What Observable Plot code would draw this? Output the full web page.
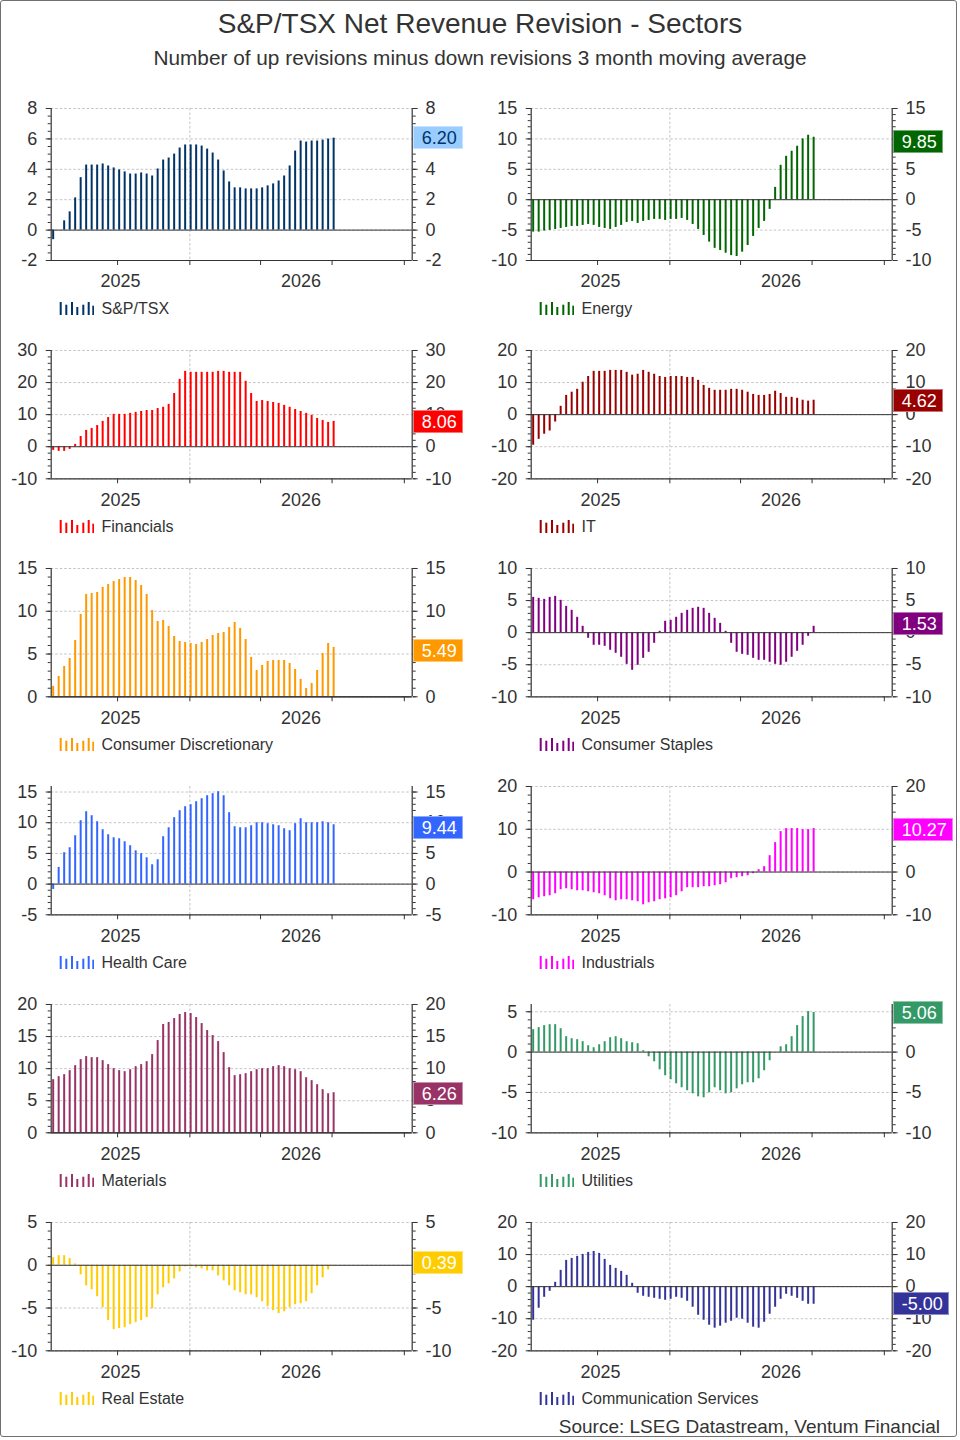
<!DOCTYPE html>
<html>
<head>
<meta charset="utf-8">
<script src="https://cdn.jsdelivr.net/npm/d3@7"></script>
<script src="https://cdn.jsdelivr.net/npm/@observablehq/plot@0.6"></script>
<style>
  body { margin: 0; background: #fff; font-family: "Liberation Sans", Arial, sans-serif; color: #333; }
  #page { position: relative; width: 960px; height: 1440px; overflow: hidden; background: #fff; }
  #border { position: absolute; left: 0; top: 0; width: 955px; height: 1435px; border: 1.5px solid #707070; border-radius: 3px; pointer-events: none; }
  .title { position: absolute; left: 0; width: 960px; text-align: center; white-space: nowrap; }
  .panel { position: absolute; }
  .panel svg { overflow: visible; }
  .vbox { position: absolute; height: 23px; line-height: 23px; font-size: 18px; padding: 0 5px 0 8px; box-sizing: border-box; border: 1px solid rgba(255,255,255,0.45); white-space: nowrap; }
  .legend { position: absolute; display: flex; align-items: center; height: 20px; font-size: 16px; color: #333; white-space: nowrap; }
  .legend svg { margin-right: 8px; }
  #source { position: absolute; right: 20px; top: 1416px; font-size: 19px; line-height: 22px; color: #333; }
</style>
</head>
<body>
<div id="page">
  <div class="title" style="top:7px;font-size:28px;line-height:34px;">S&amp;P/TSX Net Revenue Revision - Sectors</div>
  <div class="title" style="top:46px;font-size:20.8px;line-height:24px;">Number of up revisions minus down revisions 3 month moving average</div>
  <div id="panels"></div>
  <div id="source">Source: LSEG Datastream, Ventum Financial</div>
  <div id="border"></div>
</div>
<script>
// ---------- data ----------
const firstWeek = "2025-07-11";   // weekly observations
const xDomain = ["2025-07-08T12:00Z", "2026-10-11T00:00Z"];
const quarterTicks = ["2025-10-01", "2026-01-01", "2026-04-01", "2026-07-01", "2026-10-01"];
const yearGrid = ["2026-01-01"];
const yearLabels = ["2025", "2026"];

const sectors = ["S&P/TSX", "Energy", "Financials", "IT", "Consumer Discretionary", "Consumer Staples",
  "Health Care", "Industrials", "Materials", "Utilities", "Real Estate", "Communication Services"];

const spTSX = [-0.63, 0, 0.61, 1.2, 2.12, 3.45, 4.28, 4.28, 4.28, 4.35,
  4.22, 4.09, 3.96, 3.83, 3.69, 3.69, 3.76, 3.69, 3.56, 4.02,
  4.61, 4.74, 5.0, 5.4, 5.6, 5.6, 5.6, 5.53, 5.33, 5.07,
  4.61, 3.89, 3.17, 2.78, 2.78, 2.71, 2.71, 2.71, 2.78, 2.91,
  3.04, 3.23, 3.56, 4.22, 5.2, 5.86, 5.79, 5.86, 5.86, 5.92,
  5.99, 6.05];
const energy = [-5.33, -5.33, -5.16, -5.05, -4.89, -4.73, -4.56, -4.4, -4.4, -4.23,
  -4.07, -4.23, -4.56, -4.73, -4.89, -4.56, -4.23, -3.74, -3.57, -3.9,
  -3.57, -3.41, -3.24, -3.24, -3.41, -3.24, -3.24, -3.08, -3.41, -4.07,
  -4.89, -5.88, -6.98, -8.0, -8.35, -8.8, -9.2, -9.34, -8.63, -7.53,
  -6.04, -4.73, -3.57, -1.59, 2.03, 5.66, 7.14, 7.97, 8.79, 10.0,
  10.6, 10.27];
const financials = [-1.14, -1.45, -1.45, -0.83, 0.73, 3.2, 5.1, 5.7, 6.6, 7.9,
  9.1, 10.1, 10.1, 10.1, 10.4, 10.7, 11.0, 11.3, 11.3, 11.9,
  12.3, 13.2, 16.6, 21.0, 23.5, 23.2, 23.2, 23.2, 23.2, 23.2,
  23.5, 23.5, 23.2, 23.2, 23.2, 20.4, 16.6, 14.1, 14.4, 14.1,
  13.8, 13.5, 12.9, 12.3, 11.6, 11.0, 10.4, 9.8, 8.8, 8.2,
  7.6, 7.9];
const it = [-9.55, -7.7, -6.1, -5.1, -2.3, 2.6, 6.0, 7.0, 7.9, 10.1,
  11.9, 13.5, 13.5, 13.5, 13.8, 13.8, 13.8, 13.2, 12.3, 12.6,
  13.8, 13.2, 12.6, 11.9, 11.6, 11.9, 11.9, 11.9, 11.6, 11.6,
  10.7, 9.1, 8.2, 7.6, 7.6, 7.6, 7.9, 7.9, 7.6, 7.0,
  6.3, 6.0, 6.0, 6.3, 7.3, 6.6, 5.4, 5.4, 5.1, 4.5,
  4.2, 4.5];
const consDisc = [1.21, 2.38, 3.55, 4.48, 6.58, 9.62, 11.96, 12.08, 12.19, 12.78,
  13.13, 13.48, 13.71, 13.95, 13.95, 13.6, 13.01, 11.96, 10.09, 8.8,
  8.92, 8.22, 7.05, 6.47, 6.35, 6.23, 6.12, 6.35, 6.7, 7.17,
  7.4, 7.52, 8.1, 8.69, 7.99, 6.7, 4.6, 3.08, 3.66, 4.13,
  4.25, 4.25, 4.25, 3.9, 3.19, 2.03, 0.97, 1.56, 3.08, 5.06,
  6.23, 5.77];
const consStaples = [5.5, 5.35, 5.19, 5.5, 5.66, 5.04, 4.1, 3.48, 2.39, 0.99,
  -0.88, -1.97, -1.97, -2.13, -2.75, -3.22, -3.84, -4.94, -5.87, -5.09,
  -4.0, -3.06, -1.66, 0.21, 1.77, 1.92, 2.39, 3.01, 3.48, 3.79,
  3.95, 3.79, 3.01, 2.23, 1.45, 0.21, -1.66, -3.06, -3.38, -3.53,
  -4.0, -4.31, -4.31, -4.62, -4.94, -5.09, -4.62, -3.84, -2.91, -1.97,
  -0.57, 0.99];
const healthCare = [-0.87, 2.72, 5.11, 5.92, 7.88, 10.33, 11.79, 11.14, 10.16, 8.86,
  8.04, 7.55, 7.39, 6.9, 6.25, 5.43, 4.95, 4.29, 3.15, 3.97,
  7.72, 9.18, 10.82, 11.96, 12.61, 12.93, 13.42, 13.91, 14.4, 14.73,
  15.05, 14.4, 11.63, 9.35, 9.18, 9.18, 9.51, 10.0, 10.0, 9.84,
  9.67, 9.51, 9.02, 8.7, 9.84, 10.65, 10.0, 10.0, 10.0, 10.16,
  10.0, 9.67];
const industrials = [-6.48, -6.02, -5.78, -5.55, -5.08, -4.14, -3.91, -4.14, -4.38, -4.38,
  -4.61, -4.84, -5.08, -5.55, -6.25, -6.72, -6.48, -6.48, -6.72, -6.95,
  -7.66, -7.19, -6.95, -6.48, -6.25, -6.02, -5.55, -4.61, -3.67, -3.67,
  -3.67, -3.44, -3.44, -3.2, -2.97, -2.5, -1.56, -1.33, -1.09, -0.86,
  -0.39, 0.55, 1.25, 3.83, 6.88, 9.45, 10.16, 10.16, 10.16, 9.92,
  9.92, 10.16];
const materials = [8.28, 8.75, 9.06, 9.69, 10.47, 11.41, 11.88, 11.72, 11.72, 11.25,
  10.63, 10.0, 9.69, 9.53, 9.84, 10.31, 10.63, 11.09, 12.19, 14.38,
  16.88, 17.19, 17.81, 18.44, 18.75, 18.59, 17.97, 17.03, 15.94, 15.16,
  14.22, 12.5, 10.16, 8.91, 9.06, 9.22, 9.53, 9.84, 10.0, 10.0,
  10.31, 10.47, 10.31, 10.0, 9.84, 9.53, 8.59, 8.13, 7.5, 6.72,
  6.09, 6.25];
const utilities = [2.78, 3.03, 3.28, 3.4, 3.4, 2.9, 1.91, 1.66, 1.54, 1.29,
  0.79, 0.54, 0.91, 1.29, 1.78, 1.91, 1.66, 1.29, 1.16, 1.04,
  0.17, -0.58, -1.2, -2.19, -2.93, -3.43, -3.93, -4.42, -4.79, -5.17,
  -5.54, -5.66, -5.04, -4.42, -4.79, -5.17, -5.04, -4.55, -4.05, -3.8,
  -3.8, -3.31, -2.31, -1.07, 0, 0.66, 0.91, 1.91, 3.28, 4.4,
  5.02, 4.9];
const realEstate = [0.89, 1.12, 1.12, 0.78, 0.16, -1.12, -2.4, -2.87, -3.68, -4.96,
  -6.47, -7.52, -7.4, -7.29, -6.94, -6.71, -6.47, -6.12, -5.08, -3.45,
  -2.64, -2.17, -1.59, -0.78, -0.19, -0.19, -0.31, -0.43, -0.66, -0.66,
  -1.24, -1.82, -2.4, -2.98, -3.22, -3.45, -3.45, -3.8, -4.26, -4.84,
  -5.31, -5.66, -5.43, -4.96, -4.61, -4.5, -4.26, -3.33, -2.4, -1.47,
  -0.54, -0.05];
const commServices = [-10.47, -6.74, -3.32, -1.45, 1.35, 5.08, 8.19, 8.81, 9.43, 10.05,
  10.67, 10.98, 10.36, 8.5, 6.63, 5.7, 4.77, 3.52, 1.04, -2.07,
  -3.0, -3.32, -3.63, -3.94, -4.25, -3.94, -3.32, -3.63, -4.56, -6.42,
  -8.91, -10.47, -12.02, -12.95, -12.33, -11.4, -10.78, -9.84, -10.16, -11.4,
  -12.64, -12.95, -11.09, -8.6, -6.42, -3.94, -2.38, -3.0, -3.63, -4.56,
  -5.49, -5.49];

const series = [spTSX, energy, financials, it, consDisc, consStaples,
  healthCare, industrials, materials, utilities, realEstate, commServices];
const lastLabels = ["6.20", "9.85", "8.06", "4.62", "5.49", "1.53", "9.44", "10.27", "6.26", "5.06", "0.39", "-5.00"];
const yDomains = [[-2, 8], [-10, 15], [-10, 30], [-20, 20], [0, 15], [-10, 10],
  [-5, 15.9], [-10, 20], [0, 20], [-10, 5.9], [-10, 5], [-20, 20]];
const yMajor = [2, 5, 10, 10, 5, 5, 5, 10, 5, 5, 5, 10];
const yMinor = [0.5, 1, 2, 2, 1, 1, 1, 2, 1, 1, 1, 2];
const colors = ["#003366", "#006600", "#ff0000", "#990000", "#ff9900", "#800080",
  "#3366ff", "#ff00ff", "#993366", "#339966", "#ffcc00", "#333399"];
const boxFills = ["#99ccff", "#006600", "#ff0000", "#990000", "#ff9900", "#800080",
  "#3366ff", "#ff00ff", "#993366", "#339966", "#ffcc00", "#333399"];
const boxText = ["#003366", "#fff", "#fff", "#fff", "#fff", "#fff", "#fff", "#fff", "#fff", "#fff", "#fff", "#fff"];

// ---------- layout (styling) ----------
const plotTops = [108.3, 350, 568, 786, 1004, 1222];
const plotHeights = [152, 128.3, 128.3, 128.3, 128.3, 128.3];
const mL = 50.7, mR = 68.3, mT = 12, mB = 36, W = 480;
const font = "'Liberation Sans', Arial, sans-serif";
const gridColor = "#c4c4c4";
const axisColor = "#333";

const dates = series[0].map((_, i) => d3.utcDay.offset(new Date(firstWeek), 7 * i));
const xDom = xDomain.map(d => new Date(d));
const qTicks = quarterTicks.map(d => new Date(d));
const yGrid = yearGrid.map(d => new Date(d));
const yearMarks = yearLabels.map(y => {
  const a = new Date(Math.max(+new Date(`${y}-01-01`), +xDom[0]));
  const b = new Date(Math.min(+new Date(`${+y + 1}-01-01`), +xDom[1]));
  return {label: y, mid: new Date((+a + +b) / 2)};
});

function ticks(lo, hi, step) {
  const out = [];
  for (let v = Math.ceil(lo / step - 1e-9) * step; v <= hi + 1e-9; v += step) out.push(+v.toFixed(6));
  return out;
}

const container = document.getElementById("panels");
const iconBars = [[0.7, 13], [6.3, 10.3], [12, 13], [17.3, 8], [23.3, 10.3], [28.7, 13], [33.3, 9.3]];

sectors.forEach((name, k) => {
  const row = Math.floor(k / 2), col = k % 2;
  const ph = plotHeights[row];
  const left = col * W;
  const top = plotTops[row] - mT;
  const yd = yDomains[k];
  const major = ticks(yd[0], yd[1], yMajor[k]);
  const minor = ticks(yd[0], yd[1], yMinor[k]);
  const data = series[k].map((v, i) => ({date: dates[i], value: v}));
  const fmt = d => String(d);

  const plot = Plot.plot({
    width: W,
    height: mT + ph + mB,
    marginLeft: mL, marginRight: mR, marginTop: mT, marginBottom: mB,
    style: {fontFamily: font, fontSize: "18px", color: axisColor, background: "transparent", overflow: "visible"},
    x: {type: "utc", domain: xDom},
    y: {domain: yd, nice: false},
    marks: [
      Plot.gridY(major, {stroke: gridColor, strokeOpacity: 1, strokeDasharray: "2.5,2"}),
      Plot.gridX(yGrid, {stroke: gridColor, strokeOpacity: 1, strokeDasharray: "2.5,2"}),
      Plot.ruleX(data, {x: "date", y1: 0, y2: "value", stroke: colors[k], strokeWidth: 2}),
      Plot.ruleY([0], {stroke: axisColor, strokeWidth: 1}),
      Plot.ruleY([yd[0]], {stroke: axisColor, strokeWidth: 1.2}),
      Plot.ruleX(xDom, {stroke: axisColor, strokeWidth: 1.2}),
      Plot.axisY(minor, {anchor: "left", tickSize: 3, fill: "none", label: null, stroke: axisColor}),
      Plot.axisY(minor, {anchor: "right", tickSize: 3, fill: "none", label: null, stroke: axisColor}),
      Plot.axisY(major, {anchor: "left", tickSize: 5, tickPadding: 9, tickFormat: fmt, label: null, fontSize: 18, fill: axisColor, stroke: axisColor}),
      Plot.axisY(major, {anchor: "right", tickSize: 5, tickPadding: 8.3, tickFormat: fmt, label: null, fontSize: 18, fill: axisColor, stroke: axisColor}),
      Plot.axisX(qTicks, {anchor: "bottom", tickSize: 5, fill: "none", label: null, stroke: axisColor}),
      Plot.text(yearMarks, {x: "mid", text: "label", frameAnchor: "bottom", lineAnchor: "middle", dy: 21, fontSize: 18, fill: axisColor})
    ]
  });

  const wrap = document.createElement("div");
  wrap.className = "panel";
  wrap.style.left = left + "px";
  wrap.style.top = top + "px";
  wrap.style.width = W + "px";
  wrap.appendChild(plot);
  container.appendChild(wrap);

  // last value box, positioned through the panel's y scale
  const yPx = plot.scale("y").apply(parseFloat(lastLabels[k]));
  const box = document.createElement("div");
  box.className = "vbox";
  box.textContent = lastLabels[k];
  box.style.background = boxFills[k];
  box.style.color = boxText[k];
  box.style.left = (left + W - mR + 1) + "px";
  box.style.top = (top + yPx - 11.5 + 1.5) + "px";
  container.appendChild(box);

  // legend
  const lg = document.createElement("div");
  lg.className = "legend";
  lg.style.left = (left + 58.5) + "px";
  lg.style.top = (top + mT + ph + 38.2) + "px";
  const ns = "http://www.w3.org/2000/svg";
  const icon = document.createElementNS(ns, "svg");
  icon.setAttribute("width", 35);
  icon.setAttribute("height", 13);
  iconBars.forEach(([x, h]) => {
    const r = document.createElementNS(ns, "rect");
    r.setAttribute("x", x); r.setAttribute("y", 13 - h);
    r.setAttribute("width", 2); r.setAttribute("height", h);
    r.setAttribute("fill", colors[k]);
    icon.appendChild(r);
  });
  lg.appendChild(icon);
  const t = document.createElement("span");
  t.textContent = name;
  lg.appendChild(t);
  container.appendChild(lg);
});
</script>
</body>
</html>
